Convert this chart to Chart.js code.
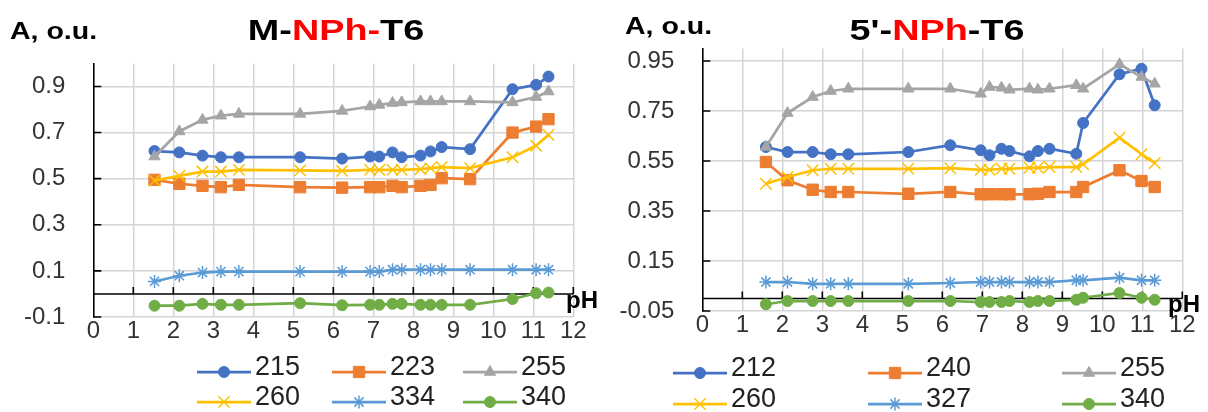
<!DOCTYPE html>
<html>
<head>
<meta charset="utf-8">
<script src="https://cdn.jsdelivr.net/npm/chart.js@4.4.1/dist/chart.umd.min.js"></script>
<style>
  html, body { margin: 0; padding: 0; background: #fff; }
  .box { position: absolute; top: 0; width: 604px; height: 412px; }
</style>
</head>
<body>
<div class="box" style="left:0"><canvas id="left" width="604" height="412"></canvas></div>
<div class="box" style="left:604px"><canvas id="right" width="604" height="412"></canvas></div>
<script>
// M-NPh-T6 (left)
const leftPH = [1.53, 2.15, 2.73, 3.19, 3.64, 5.17, 6.22, 6.92, 7.15, 7.48, 7.71, 8.18, 8.43, 8.71, 9.42, 10.48, 11.07, 11.38];
const left215 = [0.62, 0.614, 0.60, 0.593, 0.593, 0.593, 0.587, 0.596, 0.596, 0.614, 0.593, 0.60, 0.618, 0.637, 0.628, 0.888, 0.907, 0.943];
const left223 = [0.495, 0.478, 0.469, 0.463, 0.473, 0.463, 0.461, 0.463, 0.463, 0.469, 0.463, 0.469, 0.473, 0.502, 0.498, 0.70, 0.726, 0.758];
const left255 = [0.596, 0.705, 0.755, 0.773, 0.781, 0.781, 0.794, 0.813, 0.82, 0.828, 0.831, 0.835, 0.835, 0.835, 0.835, 0.831, 0.854, 0.878];
const left260 = [0.492, 0.512, 0.531, 0.531, 0.538, 0.536, 0.534, 0.538, 0.538, 0.538, 0.538, 0.541, 0.546, 0.55, 0.546, 0.593, 0.643, 0.69];
const left334 = [0.054, 0.079, 0.093, 0.097, 0.097, 0.097, 0.097, 0.097, 0.097, 0.105, 0.105, 0.105, 0.105, 0.105, 0.105, 0.105, 0.105, 0.105];
const left340 = [-0.051, -0.051, -0.043, -0.047, -0.047, -0.04, -0.049, -0.047, -0.047, -0.043, -0.043, -0.047, -0.047, -0.047, -0.047, -0.022, 0.003, 0.006];
const leftNames = ['215', '223', '255', '260', '334', '340'];
const leftYTicks = [-0.1, 0.1, 0.3, 0.5, 0.7, 0.9];

// 5'-NPh-T6 (right)
const rightPH = [1.59, 2.13, 2.76, 3.21, 3.65, 5.15, 6.2, 6.96, 7.18, 7.48, 7.68, 8.18, 8.39, 8.68, 9.35, 9.52, 10.43, 10.98, 11.31];
const right212 = [0.606, 0.586, 0.586, 0.577, 0.577, 0.586, 0.613, 0.593, 0.573, 0.599, 0.59, 0.569, 0.59, 0.599, 0.579, 0.702, 0.897, 0.919, 0.773];
const right240 = [0.546, 0.473, 0.435, 0.426, 0.426, 0.419, 0.426, 0.417, 0.417, 0.417, 0.417, 0.417, 0.419, 0.426, 0.426, 0.446, 0.513, 0.47, 0.446];
const right255 = [0.606, 0.742, 0.806, 0.83, 0.839, 0.839, 0.839, 0.819, 0.846, 0.843, 0.835, 0.839, 0.835, 0.839, 0.853, 0.839, 0.937, 0.886, 0.859];
const right260 = [0.459, 0.486, 0.513, 0.519, 0.519, 0.519, 0.521, 0.515, 0.515, 0.519, 0.519, 0.523, 0.523, 0.526, 0.526, 0.537, 0.643, 0.577, 0.542];
const right327 = [0.066, 0.066, 0.059, 0.059, 0.059, 0.059, 0.062, 0.066, 0.066, 0.066, 0.066, 0.066, 0.066, 0.066, 0.073, 0.073, 0.083, 0.073, 0.073];
const right340 = [-0.023, -0.01, -0.01, -0.01, -0.01, -0.01, -0.01, -0.014, -0.014, -0.014, -0.01, -0.014, -0.01, -0.01, -0.005, 0.003, 0.022, 0.003, -0.005];
const rightNames = ['212', '240', '255', '260', '327', '340'];
const rightYTicks = [-0.05, 0.15, 0.35, 0.55, 0.75, 0.95];

const xTicksMax = 12;

const seriesStyle = [
  { color: '#4472C4', point: 'circle', r: 5.5, bw: 1 },
  { color: '#ED7D31', point: 'rect', r: 8, bw: 1 },
  { color: '#A5A5A5', point: 'triangle', r: 6.5, bw: 1 },
  { color: '#FFC000', point: 'crossRot', r: 8, bw: 1.5 },
  { color: '#5B9BD5', point: 'star', r: 6.5, bw: 1.5 },
  { color: '#70AD47', point: 'circle', r: 5.5, bw: 1 }
];

const GRID = '#d4d4d4';
const FONT = '"Liberation Sans", Arial, sans-serif';
Chart.defaults.font.family = FONT;

const overlay = {
  id: 'overlay',
  beforeDatasetsDraw(chart) {
    // black line at A = 0 with small inside ticks, plus inside ticks on the y axis
    const { ctx, chartArea: a, scales: { x, y } } = chart;
    const y0 = y.getPixelForValue(0);
    ctx.save();
    ctx.strokeStyle = '#000';
    ctx.lineWidth = 1.6;
    ctx.beginPath();
    ctx.moveTo(a.left, y0);
    ctx.lineTo(a.right, y0);
    for (let v = 1; v <= xTicksMax; v++) {
      const px = x.getPixelForValue(v);
      ctx.moveTo(px, y0);
      ctx.lineTo(px, y0 - 7);
    }
    y.ticks.forEach(t => {
      const py = y.getPixelForValue(t.value);
      ctx.moveTo(a.left, py);
      ctx.lineTo(a.left + 8, py);
    });
    ctx.stroke();
    ctx.restore();
  },
  afterDraw(chart, args, o) {
    const ctx = chart.ctx;
    ctx.save();
    ctx.textBaseline = 'middle';
    ctx.textAlign = 'left';

    // title, mixed colours
    ctx.font = 'bold 30px ' + FONT;
    const w = o.title.reduce((s, p) => s + ctx.measureText(p[0]).width, 0);
    ctx.save();
    ctx.translate(o.titleX, o.titleY);
    ctx.scale(1.26, 1);
    let px = -w / 2;
    o.title.forEach(([t, c]) => {
      ctx.fillStyle = c;
      ctx.fillText(t, px, 0);
      px += ctx.measureText(t).width;
    });
    ctx.restore();

    // axis names
    ctx.fillStyle = '#000';
    ctx.font = 'bold 23px ' + FONT;
    ctx.save();
    ctx.translate(o.unitX, o.unitY);
    ctx.scale(1.24, 1);
    ctx.fillText('A, o.u.', 0, 0);
    ctx.restore();
    ctx.font = 'bold 24px ' + FONT;
    ctx.fillText('pH', o.phX, o.phY);

    // legend
    ctx.font = '27px ' + FONT;
    chart.data.datasets.forEach((ds, i) => {
      const lx = o.legendX[i % 3];
      const ly = o.legendY[Math.floor(i / 3)];
      ctx.strokeStyle = ds.borderColor;
      ctx.fillStyle = ds.borderColor;
      ctx.lineWidth = 2.75;
      ctx.beginPath();
      ctx.moveTo(lx, ly + 4);
      ctx.lineTo(lx + 54, ly + 4);
      ctx.stroke();
      ctx.lineWidth = ds.pointBorderWidth;
      Chart.helpers.drawPoint(ctx, {
        pointStyle: ds.pointStyle, radius: ds.pointRadius, rotation: 0, borderWidth: ds.pointBorderWidth
      }, lx + 27, ly + 4);
      ctx.fillStyle = '#222';
      ctx.fillText(ds.label, lx + 58, ly);
    });
    ctx.restore();
  }
};

function makeChart(id, cfg) {
  const datasets = cfg.series.map((vals, i) => ({
    label: cfg.names[i],
    data: cfg.ph.map((x, j) => ({ x: x, y: vals[j] })),
    borderColor: seriesStyle[i].color,
    backgroundColor: seriesStyle[i].color,
    pointBackgroundColor: seriesStyle[i].color,
    pointBorderColor: seriesStyle[i].color,
    pointStyle: seriesStyle[i].point,
    pointRadius: seriesStyle[i].r,
    pointBorderWidth: seriesStyle[i].bw,
    borderWidth: 2.75,
    tension: 0,
    fill: false,
    order: 10 - i
  }));

  return new Chart(document.getElementById(id), {
    type: 'line',
    data: { datasets: datasets },
    options: {
      responsive: false,
      animation: false,
      events: [],
      layout: { padding: { left: 0, right: cfg.padRight, top: cfg.padTop, bottom: cfg.padBottom } },
      plugins: {
        legend: { display: false },
        tooltip: { enabled: false },
        overlay: cfg.overlay
      },
      scales: {
        x: {
          type: 'linear',
          min: 0,
          max: xTicksMax,
          afterFit: s => { s.height = 30; },
          ticks: { stepSize: 1, padding: 0, color: '#333', font: { size: 24 }, maxRotation: 0 },
          grid: {
            color: c => (c.tick && c.tick.value === 0) ? 'rgba(0,0,0,0)' : GRID,
            lineWidth: 1.5,
            drawTicks: false
          },
          border: { display: false }
        },
        y: {
          type: 'linear',
          min: cfg.yMin,
          max: 1.0,
          afterBuildTicks: s => { s.ticks = cfg.yTicks.map(v => ({ value: v })); },
          afterFit: s => { s.width = cfg.axisLeft; },
          ticks: { padding: 28, color: '#333', font: { size: 24 }, callback: v => String(v) },
          grid: { color: GRID, lineWidth: 1.5, drawTicks: false },
          border: { color: '#000', width: 1.6 }
        }
      }
    },
    plugins: [overlay]
  });
}

makeChart('left', {
  ph: leftPH,
  series: [left215, left223, left255, left260, left334, left340],
  names: leftNames,
  yTicks: leftYTicks,
  yMin: -0.1,
  axisLeft: 93.3,
  padRight: 30.7,
  padTop: 63.4,
  padBottom: 65,
  overlay: {
    title: [['M-', '#000'], ['NPh-', '#FF0000'], ['T6', '#000']],
    titleX: 336, titleY: 32,
    unitX: 10, unitY: 33,
    phX: 566, phY: 301,
    legendX: [197, 332, 463],
    legendY: [368, 398]
  }
});

makeChart('right', {
  ph: rightPH,
  series: [right212, right240, right255, right260, right327, right340],
  names: rightNames,
  yTicks: rightYTicks,
  yMin: -0.05,
  axisLeft: 98.3,
  padRight: 25.7,
  padTop: 48.5,
  padBottom: 71,
  overlay: {
    title: [["5'-", '#000'], ['NPh', '#FF0000'], ['-T6', '#000']],
    titleX: 333, titleY: 32,
    unitX: 21, unitY: 28,
    phX: 564, phY: 305,
    legendX: [69, 264, 458],
    legendY: [369, 400]
  }
});
</script>
</body>
</html>
